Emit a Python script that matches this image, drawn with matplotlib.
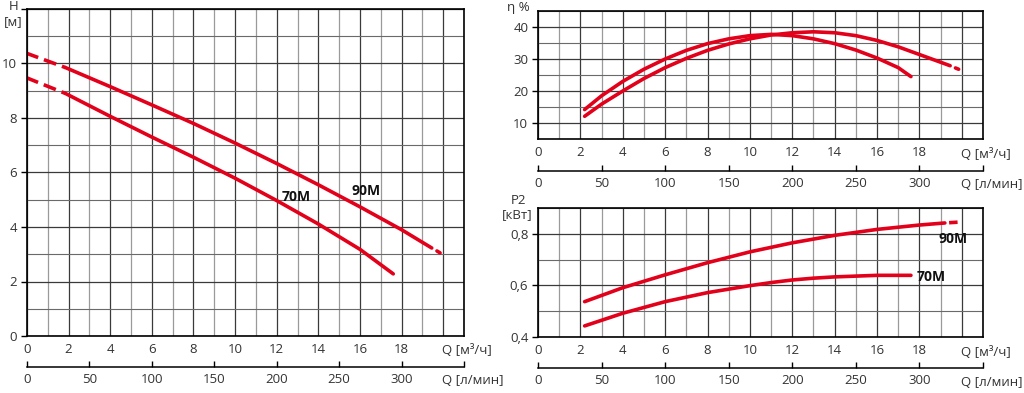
import numpy as np
import matplotlib
matplotlib.use("Agg")
import matplotlib.pyplot as plt

plt.rcParams['font.family'] = ['Open Sans', 'DejaVu Sans']

# ---------------- data ----------------
# Head curves H [m] vs Q [m3/h]
Q_H90 = [0, 1.85, 4, 6, 8, 10, 12, 14, 16, 18, 19.45, 19.7, 19.85]
H_90 = [10.37, 9.85, 9.15, 8.48, 7.80, 7.08, 6.33, 5.55, 4.74, 3.90, 3.23, 3.12, 3.05]
Q_H70 = [0, 1.85, 4, 6, 8, 10, 12, 14, 16, 17.6]
H_70 = [9.47, 8.90, 8.06, 7.30, 6.56, 5.79, 4.97, 4.11, 3.18, 2.28]

# Efficiency curves eta [%]
Q_E70 = [2.2, 3, 4, 5, 6, 7, 8, 9, 10, 11, 12, 13, 14, 15, 16, 17, 17.6]
E_70 = [14.2, 18.5, 23.0, 26.8, 30.0, 32.7, 34.8, 36.3, 37.3, 37.7, 37.3, 36.3, 34.8, 32.8, 30.3, 27.3, 24.5]
Q_E90 = [2.2, 3, 4, 5, 6, 7, 8, 9, 10, 11, 12, 13, 14, 15, 16, 17, 18, 19.45, 19.7, 19.85]
E_90 = [12.1, 15.9, 20.0, 23.9, 27.3, 30.2, 32.7, 34.7, 36.3, 37.5, 38.2, 38.5, 38.2, 37.3, 35.8, 33.8, 31.4, 27.9, 27.2, 26.8]

# Power curves P2 [kW]
Q_P90 = [2.2, 4, 6, 8, 10, 12, 14, 16, 18, 19.2, 19.4, 19.8]
P_90 = [0.537, 0.591, 0.641, 0.688, 0.730, 0.765, 0.794, 0.817, 0.834, 0.842, 0.843, 0.845]
Q_P70 = [2.2, 4, 6, 8, 10, 11, 12, 13, 14, 16, 17.6]
P_70 = [0.443, 0.492, 0.537, 0.572, 0.599, 0.611, 0.621, 0.628, 0.633, 0.639, 0.639]

Q_TICKS = [0, 2, 4, 6, 8, 10, 12, 14, 16, 18]
LPM_TICKS = [0, 50, 100, 150, 200, 250, 300]
H_TICKS = [0, 2, 4, 6, 8, 10]
E_TICKS = [10, 20, 30, 40]
P_TICKS = [0.4, 0.6, 0.8]
P_TICKLABELS = ['0,4', '0,6', '0,8']

RED = '#e2001a'
TXT = '#333333'
LW = 2.6
FS = 9.5

W, Hpx = 1024, 393
fig = plt.figure(figsize=(W / 100, Hpx / 100), dpi=100)


def box(x0, x1, ytop, ybot):
    return [x0 / W, 1 - ybot / Hpx, (x1 - x0) / W, (ybot - ytop) / Hpx]


ax1 = fig.add_axes(box(27, 464, 9, 336))
ax2 = fig.add_axes(box(538, 983, 11, 139))
ax3 = fig.add_axes(box(538, 983, 208, 337))


def style(ax, ylim, ymaj, ymin, ylabels, sec_off):
    ax.set_xlim(0, 21)
    ax.set_ylim(*ylim)
    ax.set_xticks(list(Q_TICKS) + [20], [str(v) for v in Q_TICKS] + [''])
    ax.set_xticks(np.arange(1, 22, 2), minor=True)
    ax.set_yticks(ymaj, ylabels)
    ax.set_yticks(ymin, minor=True)
    ax.grid(True, which='major', axis='x', color='#3a3a3a', lw=0.9)
    ax.grid(True, which='minor', axis='x', color='#9a9a9a', lw=0.9)
    ax.grid(True, which='major', axis='y', color='#3a3a3a', lw=0.9)
    ax.grid(True, which='minor', axis='y', color='#6a6a6a', lw=0.8)
    ax.set_axisbelow(True)
    for s in ax.spines.values():
        s.set_color('black')
        s.set_linewidth(1.2)
    ax.tick_params(axis='x', which='both', length=0, pad=5, labelsize=FS, labelcolor=TXT)
    ax.tick_params(axis='y', which='major', length=4, width=1, direction='out', pad=3,
                   labelsize=FS, labelcolor=TXT)
    ax.tick_params(axis='y', which='minor', length=0)
    sec = ax.secondary_xaxis(sec_off, functions=(lambda q: q * 1000 / 60,
                                                 lambda l: l * 60 / 1000))
    sec.set_xticks(list(LPM_TICKS) + [350], [str(v) for v in LPM_TICKS] + [''])
    sec.tick_params(axis='x', direction='in', length=4, width=1, pad=4,
                    labelsize=FS, labelcolor=TXT)
    sec.spines['bottom'].set_linewidth(1.1)
    tr = ax.get_xaxis_transform()
    return sec, tr


# ---- Left: head ----
ax = ax1
sec, tr = style(ax, (0, 12), list(range(0, 13, 2)), list(range(1, 13, 2)),
                [str(v) for v in H_TICKS] + [''], -31 / 327)
for q, h in ((Q_H90, H_90), (Q_H70, H_70)):
    q = np.array(q); h = np.array(h)
    m1 = q <= 1.85
    ax.plot(q[m1], h[m1], color=RED, lw=LW, ls=(0.3, (3.6, 1.7)), solid_capstyle='butt')
    m2 = (q >= 1.85) & (q <= 19.45)
    ax.plot(q[m2], h[m2], color=RED, lw=LW, solid_capstyle='round', solid_joinstyle='round')
    m3 = q >= 19.7
    if m3.any():
        ax.plot(q[m3], h[m3], color=RED, lw=LW, solid_capstyle='round')
ax.text(12.93, 5.11, '70M', fontsize=10, fontweight='bold', ha='center', va='center', color='#111')
ax.text(16.3, 5.33, '90M', fontsize=10, fontweight='bold', ha='center', va='center', color='#111')
ax.text(19.95, -14 / 327, 'Q [м³/ч]', transform=tr, ha='left', va='center', fontsize=FS, color=TXT)
ax.text(19.95, -44 / 327, 'Q [л/мин]', transform=tr, ha='left', va='center', fontsize=FS, color=TXT)

# ---- Top right: efficiency ----
ax = ax2
sec, tr = style(ax, (5, 45), E_TICKS, [5, 15, 25, 35, 45],
                [str(v) for v in E_TICKS], -32 / 128)
ax.plot(Q_E70, E_70, color=RED, lw=LW, solid_capstyle='round', solid_joinstyle='round')
q = np.array(Q_E90); e = np.array(E_90)
ax.plot(q[q <= 19.45], e[q <= 19.45], color=RED, lw=LW, solid_capstyle='round', solid_joinstyle='round')
ax.plot(q[q >= 19.7], e[q >= 19.7], color=RED, lw=LW, solid_capstyle='round')
ax.text(19.95, -15 / 128, 'Q [м³/ч]', transform=tr, ha='left', va='center', fontsize=FS, color=TXT)
ax.text(19.95, -46 / 128, 'Q [л/мин]', transform=tr, ha='left', va='center', fontsize=FS, color=TXT)

# ---- Bottom right: power ----
ax = ax3
sec, tr = style(ax, (0.4, 0.9), P_TICKS, [0.5, 0.7, 0.9], P_TICKLABELS, -31 / 129)
q = np.array(Q_P90); p = np.array(P_90)
ax.plot(q[q <= 19.2], p[q <= 19.2], color=RED, lw=LW, solid_capstyle='round', solid_joinstyle='round')
ax.plot(q[q >= 19.4], p[q >= 19.4], color=RED, lw=LW, solid_capstyle='butt')
ax.plot(Q_P70, P_70, color=RED, lw=LW, solid_capstyle='round', solid_joinstyle='round')
ax.text(19.6, 0.781, '90M', fontsize=10, fontweight='bold', ha='center', va='center', color='#111')
ax.text(18.54, 0.634, '70M', fontsize=10, fontweight='bold', ha='center', va='center', color='#111')
ax.text(19.95, -15 / 129, 'Q [м³/ч]', transform=tr, ha='left', va='center', fontsize=FS, color=TXT)
ax.text(19.95, -46 / 129, 'Q [л/мин]', transform=tr, ha='left', va='center', fontsize=FS, color=TXT)


def ftext(x, y, s):
    fig.text(x / W, 1 - y / Hpx, s, ha='center', va='center', fontsize=FS, color=TXT)


ftext(14, 6, 'H')
ftext(13, 22, '[м]')
ftext(518, 7, 'η %')
ftext(519, 200, 'P2')
ftext(517, 215, '[кВт]')

fig.savefig('out.png', dpi=100, facecolor='white')
